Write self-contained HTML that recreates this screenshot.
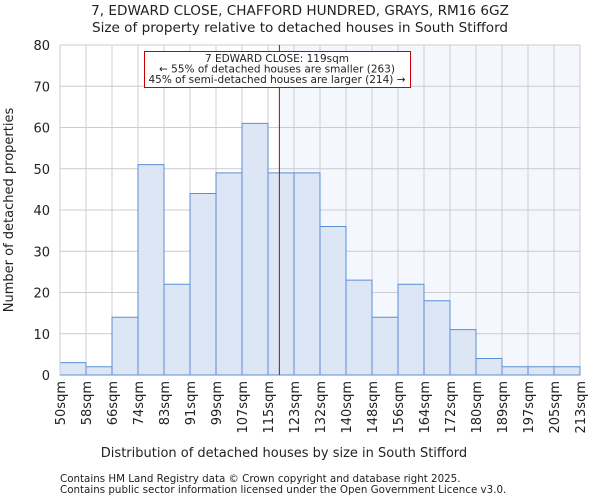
<!DOCTYPE html>
<html><head><meta charset="utf-8"><style>
body{margin:0;background:#fff;font-family:"DejaVu Sans","Liberation Sans",sans-serif}
svg text{font-family:"DejaVu Sans","Liberation Sans",sans-serif;fill:#222}
</style></head><body>
<svg id="c" width="600" height="500" xmlns="http://www.w3.org/2000/svg">
<text x="300" y="15" text-anchor="middle" font-size="13.6">7, EDWARD CLOSE, CHAFFORD HUNDRED, GRAYS, RM16 6GZ</text>
<text x="300" y="32" text-anchor="middle" font-size="13.6">Size of property relative to detached houses in South Stifford</text>
<g id="grid"></g><g id="bars"></g><g id="axes"></g>
<text x="284" y="457" text-anchor="middle" font-size="13">Distribution of detached houses by size in South Stifford</text>
<text transform="translate(13,210) rotate(-90)" text-anchor="middle" font-size="13">Number of detached properties</text>
<text x="60" y="482" font-size="10.3" fill="#444">Contains HM Land Registry data © Crown copyright and database right 2025.</text>
<text x="60" y="493" font-size="10.3" fill="#444">Contains public sector information licensed under the Open Government Licence v3.0.</text>
</svg>
<script>
const categories=["50sqm","58sqm","66sqm","74sqm","83sqm","91sqm","99sqm","107sqm","115sqm","123sqm","132sqm","140sqm","148sqm","156sqm","164sqm","172sqm","180sqm","189sqm","197sqm","205sqm","213sqm"];
const counts=[3,2,14,51,22,44,49,61,49,49,36,23,14,22,18,11,4,2,2,2];
const yTicks=[0,10,20,30,40,50,60,70,80];
const markerValue=118.5;
const markerBinStart=115, markerBinEnd=123, markerBinIndex=8;
const NS="http://www.w3.org/2000/svg";
const L=60,R=580,T=45,B=375,yMax=80;
const bw=(R-L)/counts.length;
const x=i=>L+i*bw;
const y=v=>B-(B-T)*v/yMax;
function mk(p,tag,a){const e=document.createElementNS(NS,tag);for(const k in a)e.setAttribute(k,a[k]);p.appendChild(e);return e;}
const grid=document.getElementById('grid'),bars=document.getElementById('bars'),axes=document.getElementById('axes');
const mx=x(markerBinIndex+(markerValue-markerBinStart)/(markerBinEnd-markerBinStart));
const sh=mk(grid,'rect',{x:mx,y:T,width:R-mx,height:B-T,fill:'#f4f7fe'});


for(let i=0;i<=counts.length;i++){const g=mk(grid,'line',{x1:x(i),x2:x(i),y1:T,y2:B,stroke:'#ccc','stroke-width':1});

}
yTicks.forEach(v=>{const g=mk(grid,'line',{x1:L,x2:R,y1:y(v),y2:y(v),stroke:'#ccc','stroke-width':1});


const t=mk(axes,'text',{x:L-10,y:y(v)+5,'text-anchor':'end','font-size':13});t.textContent=v;

});
counts.forEach((c,i)=>{const r=mk(bars,'rect',{x:x(i),y:y(c),width:bw,height:B-y(c),fill:'#dce6f4',stroke:'#5b8fd6','stroke-width':1});

});
categories.forEach((c,i)=>{const t=mk(axes,'text',{transform:`translate(${x(i)+5},${B+6}) rotate(-90)`,'text-anchor':'end','font-size':13});t.textContent=c;

});
const ax=mk(axes,'line',{x1:L,x2:L,y1:T,y2:B,stroke:'#ccc'});


const ml=mk(axes,'line',{x1:mx,x2:mx,y1:T,y2:B,stroke:'#b00','stroke-width':1});


const box=mk(axes,'rect',{x:144.5,y:51.5,width:266,height:36,fill:'#fff',stroke:'#c00','stroke-width':1});


["7 EDWARD CLOSE: 119sqm","← 55% of detached houses are smaller (263)","45% of semi-detached houses are larger (214) →"].forEach((s,i)=>{const t=mk(axes,'text',{x:277,y:62+i*10.5,'text-anchor':'middle','font-size':10.5});t.textContent=s;

});
</script>
</body></html>
